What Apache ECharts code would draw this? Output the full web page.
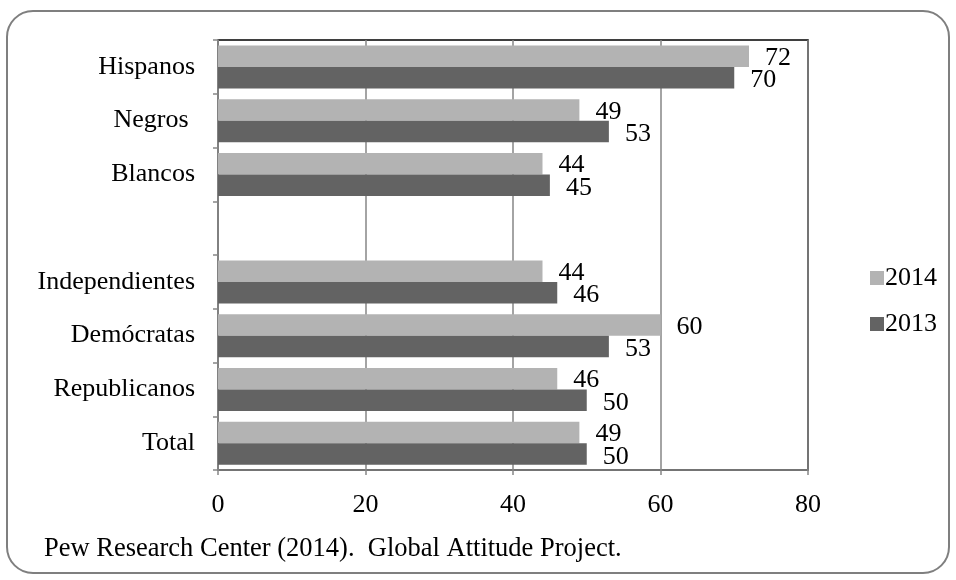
<!DOCTYPE html>
<html>
<head>
<meta charset="utf-8">
<script src="https://cdn.jsdelivr.net/npm/echarts@6/dist/echarts.min.js"></script>
<style>
  html, body { margin: 0; padding: 0; background: #fff; }
  #chart { width: 956px; height: 580px; }
</style>
</head>
<body>
<div id="chart"></div>
<script>
// categories, bottom to top (empty slot = gap between groups)
const categories = ['Total', 'Republicanos', 'Demócratas', 'Independientes', '', 'Blancos', 'Negros ', 'Hispanos'];
const values2014 = [49, 46, 60, 44, '-', 44, 49, 72];
const values2013 = [50, 50, 53, 46, '-', 45, 53, 70];
const xTicks = [0, 20, 40, 60, 80];

const serif = 'Liberation Serif';
const chart = echarts.init(document.getElementById('chart'));

const barLabel = function (dy) {
    return {
        show: true,
        position: 'right',
        distance: 16,
        offset: [0, dy],
        color: '#000',
        fontFamily: serif,
        fontSize: 26
    };
};

const option = {
    animation: false,
    textStyle: { fontFamily: serif },
    graphic: [
        {
            type: 'rect',
            shape: { x: 7, y: 11, width: 942, height: 562, r: 26 },
            style: { fill: 'none', stroke: '#7f7f7f', lineWidth: 2 },
            z: -1
        },
        {
            type: 'text',
            x: 44,
            y: 549,
            style: {
                text: 'Pew Research Center (2014).  Global Attitude Project.',
                fontFamily: serif,
                fontSize: 26.5,
                fill: '#000',
                verticalAlign: 'middle'
            }
        }
    ],
    grid: {
        left: 218, right: 148, top: 40, bottom: 110,
        show: true,
        borderColor: '#000',
        borderWidth: 1.5
    },
    legend: {
        orient: 'vertical',
        left: 865,
        top: 260,
        itemWidth: 14,
        itemHeight: 14,
        itemGap: 20,
        icon: 'rect',
        data: ['2014', '2013'],
        textStyle: { fontFamily: serif, fontSize: 26, color: '#000', padding: [0, 0, 0, -4] }
    },
    xAxis: {
        type: 'value',
        min: xTicks[0],
        max: xTicks[xTicks.length - 1],
        interval: 20,
        axisLine: { show: true, lineStyle: { color: '#868686', width: 1.5 } },
        axisTick: { show: true, length: 5, lineStyle: { color: '#868686', width: 1.5 } },
        axisLabel: { color: '#000', fontFamily: serif, fontSize: 26, margin: 22 },
        splitLine: { show: true, lineStyle: { color: '#868686', width: 1.5 } }
    },
    yAxis: {
        type: 'category',
        data: categories,
        axisLine: { show: true, lineStyle: { color: '#868686', width: 1.5 } },
        axisTick: { show: true, length: 5, lineStyle: { color: '#868686', width: 1.5 } },
        axisLabel: { color: '#000', fontFamily: serif, fontSize: 26, margin: 23 }
    },
    series: [
        {
            name: '2014',
            type: 'bar',
            data: values2014,
            barCategoryGap: '20%',
            barGap: '0%',
            itemStyle: { color: '#b3b3b3' },
            label: barLabel(2)
        },
        {
            name: '2013',
            type: 'bar',
            data: values2013,
            barCategoryGap: '20%',
            barGap: '0%',
            itemStyle: { color: '#636363' },
            label: barLabel(3)
        }
    ]
};

chart.setOption(option);
</script>
</body>
</html>
